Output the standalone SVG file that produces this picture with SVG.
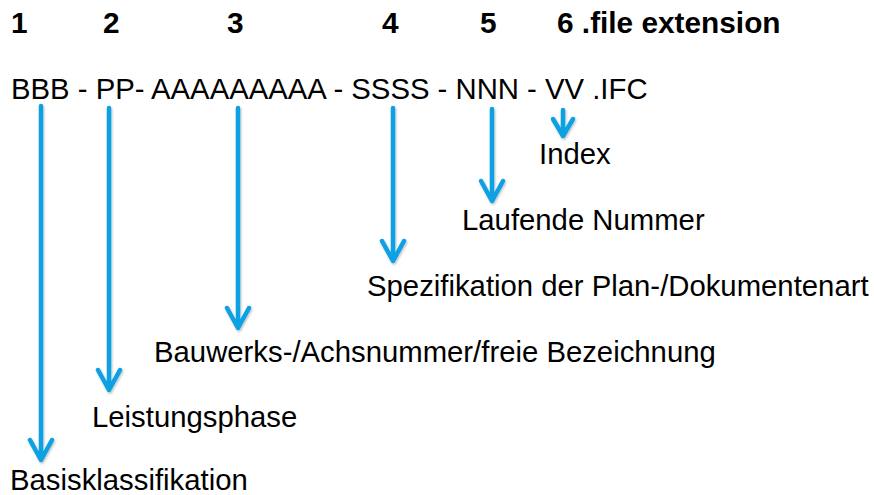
<svg xmlns="http://www.w3.org/2000/svg" width="874" height="495" viewBox="0 0 874 495">
<style>
.h{font-family:"Liberation Sans",Arial,sans-serif;font-weight:bold;font-size:29.8px;fill:#000}
.t{font-family:"Liberation Sans",Arial,sans-serif;font-size:29.3px;fill:#000}
.a{stroke:#0ba0e3;stroke-width:4.5;fill:none;stroke-linecap:round;stroke-linejoin:round}
</style>
<defs>
<filter id="sh" x="-50%" y="-10%" width="200%" height="120%">
<feDropShadow dx="1" dy="1.5" stdDeviation="1" flood-color="#000" flood-opacity="0.25"/>
</filter>
</defs>
<rect width="874" height="495" fill="#fff"/>
<g id="header">
<text class="h" x="11" y="33">1</text>
<text class="h" x="103" y="33">2</text>
<text class="h" x="227" y="33">3</text>
<text class="h" x="382" y="33">4</text>
<text class="h" x="480" y="33">5</text>
<text class="h" x="557" y="33">6 .file extension</text>
</g>
<g id="code"><text class="t" x="11" y="99">BBB - PP- AAAAAAAAA - SSSS - NNN - VV .IFC</text></g>
<g id="connectors" filter="url(#sh)">
<path class="a" d="M41 106V460M30 440L41 460L52 440"/>
<path class="a" d="M109 108V390M98 370L109 390L120 370"/>
<path class="a" d="M238 108V328M227 308L238 328L249 308"/>
<path class="a" d="M393 108V261M382 241L393 261L404 241"/>
<path class="a" d="M492 109V201M481 181L492 201L503 181"/>
<path class="a" d="M563 110V136M553 119L563 136L573 119"/>
</g>
<g id="n-index"><text class="t" x="539" y="164">Index</text></g>
<g id="n-lauf"><text class="t" x="462" y="230">Laufende Nummer</text></g>
<g id="n-spez"><text class="t" x="367" y="296">Spezifikation der Plan-/Dokumentenart</text></g>
<g id="n-bau"><text class="t" x="154" y="362">Bauwerks-/Achsnummer/freie Bezeichnung</text></g>
<g id="n-leist"><text class="t" x="92" y="427">Leistungsphase</text></g>
<g id="n-basis"><text class="t" x="10" y="490">Basisklassifikation</text></g>
</svg>
